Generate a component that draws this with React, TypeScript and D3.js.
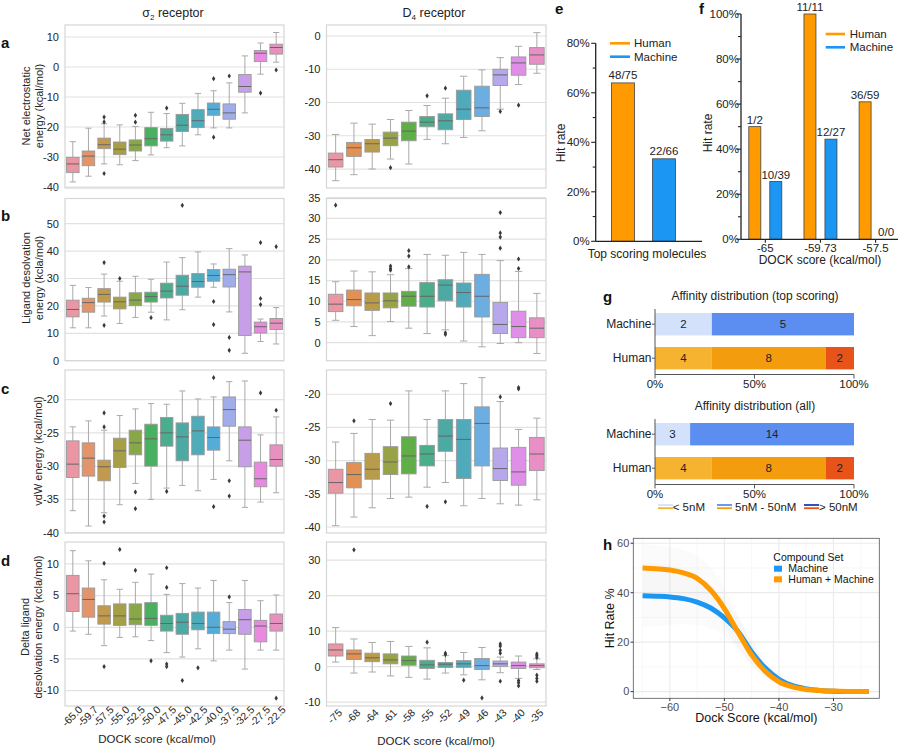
import React from "react";
import * as d3 from "d3";

const FONT = "'Liberation Sans', Arial, Helvetica, sans-serif";

// ---------------- data: box plots (each box: [lowWhisker, q1, median, q3, highWhisker]) ----------------
const sigmaScores = ["-65.0", "-59.7", "-57.5", "-55.0", "-52.5", "-50.0", "-47.5", "-45.0", "-42.5", "-40.0", "-37.5", "-32.5", "-27.5", "-22.5"];
const d4Scores = ["-75", "-68", "-64", "-61", "-58", "-55", "-52", "-49", "-46", "-43", "-40", "-35"];

const elecSigma = [
  [-38.3, -35.2, -32.3, -30.1, -24.9], [-36.4, -32.9, -29.7, -28, -20.4], [-32.3, -27.2, -25.9, -23.7, -18.9],
  [-32.6, -29.2, -27.4, -25, -19.3], [-31.2, -28, -26, -24.3, -19.8], [-29.3, -26.3, -23.9, -20.2, -15.1],
  [-26.9, -24.7, -22.6, -20.5, -15.5], [-26.3, -21.5, -19.4, -15.8, -12.1], [-22.6, -20.2, -17.9, -14.2, -8.8],
  [-20.3, -16.1, -14.1, -12, -7.9], [-20.3, -17.4, -15.3, -12.3, -5.3], [-15.3, -8.4, -6.5, -2.5, 3.7],
  [-2.4, 1.8, 4.6, 5.5, 8], [1.6, 4.3, 6.5, 7.6, 11.5],
];
const elecSigmaFliers = [[], [], [-16.7, -18.3, -35.5], [], [-16.1, -18.4], [], [-13.7], [], [], [-3.9, -23.4], [-3], [], [-8.7], [-1]];

const elecD4 = [
  [-43.5, -39.4, -37.2, -35.2, -29.6], [-41.7, -36.2, -33.6, -32, -26.2], [-40, -34.9, -32.4, -31.1, -26.5],
  [-37, -33, -30.7, -28.9, -25.1], [-38.5, -31.5, -28.6, -25.9, -22.4], [-31.1, -27.3, -25.9, -24.2, -20.9],
  [-32.4, -28.2, -25.5, -23.4, -18.7], [-30.5, -25.1, -22, -16.3, -12.1], [-28.5, -24.2, -21.6, -15.1, -10.2],
  [-22, -14.9, -11.7, -10, -6.5], [-14.6, -11.8, -8.1, -6.3, -3.1], [-11.2, -8.5, -5.7, -3.5, 1],
];
const elecD4Fliers = [[], [], [], [-39.6], [], [-18], [-15.7], [], [], [-22.7], [-20.8], []];

const desolvSigma = [
  [12, 16, 18.7, 22.1, 27.5], [12, 17.7, 21.2, 22.8, 26.7], [16.3, 21.4, 24.2, 26.3, 31.6],
  [13.6, 18.9, 21.5, 23.2, 29], [15.8, 20.1, 22.1, 24.8, 30.8], [17.7, 21.4, 23.4, 25, 29.7],
  [14.9, 22.9, 25.4, 28.3, 36], [18.6, 23.9, 27.2, 31.2, 37.6], [23.2, 26.8, 28.9, 31.8, 39.7],
  [26.8, 29, 31.1, 33.3, 35.3], [17.8, 26.9, 31.4, 33.4, 40.9], [2.7, 9.2, 32.4, 34.5, 38.6],
  [7, 10.1, 12.4, 14.1, 15.2], [6.1, 11.4, 13.7, 15.4, 19.4],
];
const desolvSigmaFliers = [[], [], [35.8, 12.9], [30], [], [15.7], [], [56.7], [], [21.6, 13.2], [8.5, 3.8], [], [43.1, 22.7, 20.5], [41.6]];

const desolvD4 = [
  [5.4, 7.5, 9.3, 11.7, 14.7], [3.9, 8.9, 10.4, 12.7, 17.3], [1.7, 7.8, 9.6, 12, 17.1],
  [5.1, 8.4, 10.1, 12, 16.4], [3.5, 8.8, 11.2, 12.4, 17.9], [2.2, 8.6, 11.2, 14.5, 21.3],
  [3.1, 10.1, 13.9, 15.2, 21.1], [0.4, 8.6, 12.1, 14.4, 21.8], [-1, 6.2, 11.2, 16.5, 21.3],
  [-0.2, 2.2, 4.4, 9.7, 19.8], [0, 1.2, 3.9, 7.6, 17.2], [-2.6, 1.2, 3.5, 6, 11.9],
];
const desolvD4Fliers = [[33.2], [], [], [18.5, 17.9, 17.5], [22.2, 20.9, 18.3], [], [2.4, 2], [], [], [31.4, 26.5, 25.5, 22.8], [20.2, 17.9], []];

const vdwSigma = [
  [-36.7, -31.7, -29.7, -26.2, -24.1], [-39, -31.5, -28.8, -26.5, -23.2], [-37, -32.2, -30.1, -29.1, -24.6],
  [-35.8, -30.2, -27.7, -25.8, -22.4], [-32.6, -28.3, -26.5, -24.6, -21.4], [-35, -30, -25.9, -23.7, -20.6],
  [-33.3, -27, -25, -22.7, -20.7], [-32.9, -29.2, -25.6, -23.5, -18.7], [-33.7, -28.3, -24.7, -22.5, -19.9],
  [-32, -27.6, -25.7, -24.1, -19.6], [-29.2, -24, -21.5, -19.6, -17.3], [-36.2, -30.1, -26.1, -24.1, -17.2],
  [-35.4, -33.1, -31.9, -29.4, -25.3], [-34, -30, -29, -26.8, -22.6],
];
const vdwSigmaFliers = [[], [], [-22, -24.1, -37.5, -38.4], [], [-33.9, -36.4], [], [-33.8], [], [], [-16.7, -36.1], [-32.2, -34.5], [], [-19], [-21.6]];

const vdwD4 = [
  [-39.8, -34.9, -33.3, -31.3, -27.2], [-38.5, -34.1, -32.1, -30.3, -25.9], [-37.1, -32.8, -31.3, -28.9, -23.8],
  [-35.7, -32.1, -30.2, -27.9, -23.9], [-35.5, -32, -29.3, -26.4, -19.5], [-34, -30.8, -29, -27.7, -23.8],
  [-33.3, -28.6, -26.3, -23.8, -19.5], [-36.8, -32.7, -26.8, -23.8, -18.4], [-35.7, -30.8, -24.4, -21.9, -17.5],
  [-36.5, -33, -31.2, -28.1, -21.1], [-36.7, -33.7, -31.7, -28, -25.3], [-35.9, -31.5, -29, -26.5, -23.6],
];
const vdwD4Fliers = [[], [-24], [], [-21.4], [], [-36.9], [-36.2], [], [], [-20.4], [-19, -19.2], []];

const deltaSigma = [
  [-0.6, 2.5, 5.3, 8.2, 12.1], [-1.1, 1.6, 4.4, 6.2, 10.5], [-2.9, 0.5, 1.8, 3.4, 7.5],
  [-1.6, 0.3, 1.8, 3.7, 6], [-1.5, 0.4, 1.3, 3.7, 7.1], [-2.1, 0.3, 1.4, 3.9, 8.4],
  [-4, -0.6, 0.6, 1.9, 5.2], [-4.7, -1.1, 0.8, 2.2, 6.9], [-3.4, -0.4, 0.6, 2.4, 6.2],
  [-5.3, -1, 0, 2.4, 7.4], [-3.6, -1, -0.3, 0.9, 3.9], [-6.6, -1.1, 1.2, 2.8, 7.4],
  [-3.6, -2.3, 0.2, 1.1, 4.2], [-3.6, -0.6, 0.6, 2.1, 5.1],
];
const deltaSigmaFliers = [[], [], [10.1, -6.2], [12.3], [9], [-5.3], [9.4, 6.3, -5.8, -6.2], [-8.4], [-6.4], [], [4.8], [], [], [-11.2]];

const deltaD4 = [
  [1.3, 3, 4.7, 6.4, 11], [-1.8, 2, 3.6, 4.7, 7.8], [-1.5, 1.4, 2.5, 3.8, 6.8],
  [-2.6, 0.8, 1.9, 3.6, 7.1], [-3, 0.4, 1.7, 3, 5.7], [-3.5, -0.5, 0.5, 1.8, 5.3],
  [-1.8, -0.2, 0.7, 1.2, 3.1], [-2.3, -0.2, 0.8, 1.7, 4], [-3.7, -0.8, 0.3, 2.3, 5.4],
  [-1.7, 0.1, 0.8, 1.6, 2.7], [-3.3, -0.5, 0.3, 1.3, 3], [-0.8, -0.3, 0.3, 0.8, 2.2],
];
const deltaD4Fliers = [[], [32.9], [], [], [], [6.9], [3.8, 3.4], [-3.8], [-8.8], [6.4, 5.8, 4.6, 3.8, -4.1], [-3.9, -4.5, -5.4], [3.6, 3.1, 2.6, -2.4, -3.3, -4.1]];

// ---------------- data: e / f ----------------
const eGroups = ["Human", "Machine"];
const eHits = [48, 22];
const eTotals = [75, 66];

const fScores = ["-65", "-59.73", "-57.5"];
const fHumanHits = [1, 11, 36];
const fHumanTotals = [2, 11, 59];
const fMachineHits = [10, 12, 0];
const fMachineTotals = [39, 27, 0];

// ---------------- data: g (counts: <5nM, 5-50nM, >50nM) ----------------
const gRows = ["Machine", "Human"];
const gTopMachine = [2, 5, 0];
const gTopHuman = [4, 8, 2];
const gAllMachine = [3, 14, 0];
const gAllHuman = [4, 8, 2];
const gLegend = ["< 5nM", "5nM - 50nM", "> 50nM"];

// ---------------- data: h ----------------
const hScores = [-65, -62.5, -60, -57.5, -55, -52.5, -50, -47.5, -45, -42.5, -40, -37.5, -35, -32.5, -30, -27.5, -23.5];
const hMachine = [38.8, 38.6, 38.3, 37.6, 36.2, 33.8, 29.8, 24.3, 16, 9.5, 5, 2.4, 1.1, 0.5, 0.2, 0.08, 0.02];
const hHumanMachine = [50, 49.7, 49.2, 48, 45.8, 41, 33.6, 24, 14.8, 8.2, 4, 1.9, 0.9, 0.45, 0.22, 0.1, 0.03];
const hHMUpper = [59.5, 59.2, 58.5, 57.2, 55, 50, 42, 31, 20, 11.5, 6, 3.5, 2, 1.2, 0.8, 0.5, 0.3];
const hHMLower = [40, 40.2, 40, 39, 37, 33, 26, 18, 10.5, 5, 2.2, 1, 0.4, 0.15, 0.05, 0, 0];
const hMUpper = [52, 51.8, 51, 49.5, 47, 43, 37, 30, 21, 13, 8, 4.5, 2.5, 1.3, 0.7, 0.4, 0.2];
const hMLower = [26, 26.5, 27, 27.2, 27, 25.5, 23, 17, 11, 6, 2.5, 1, 0.3, 0.1, 0, 0, 0];

// ---------------- HUSL palette (seaborn style) ----------------
const MM = [
  [3.240969941904521, -1.537383177570093, -0.498610760293],
  [-0.96924363628087, 1.87596750150772, 0.041555057407175],
  [0.055630079696993, -0.20397695888897, 1.056971514242878],
];
const refU = 0.19783000664283, refV = 0.46831999493879, kappa = 903.2962962, eps = 0.0088564516;
function maxChroma(L: number, H: number) {
  const sub1 = Math.pow(L + 16, 3) / 1560896;
  const sub2 = sub1 > eps ? sub1 : L / kappa;
  const hr = (H / 360) * Math.PI * 2;
  let min = Infinity;
  for (const [m1, m2, m3] of MM) {
    for (const t of [0, 1]) {
      const top1 = (284517 * m1 - 94839 * m3) * sub2;
      const top2 = (838422 * m3 + 769860 * m2 + 731718 * m1) * L * sub2 - 769860 * t * L;
      const bottom = (632260 * m3 - 126452 * m2) * sub2 + 126452 * t;
      const slope = top1 / bottom, inter = top2 / bottom;
      const len = inter / (Math.sin(hr) - slope * Math.cos(hr));
      if (len >= 0) min = Math.min(min, len);
    }
  }
  return min;
}
function husl(H: number, S: number, L: number) {
  const C = (maxChroma(L, H) / 100) * S;
  const hr = (H / 180) * Math.PI;
  const U = Math.cos(hr) * C, V = Math.sin(hr) * C;
  const vu = U / (13 * L) + refU, vv = V / (13 * L) + refV;
  const Y = L <= 8 ? L / kappa : Math.pow((L + 16) / 116, 3);
  const X = 0 - (9 * Y * vu) / ((vu - 4) * vv - vu * vv);
  const Z = (9 * Y - 15 * vv * Y - vv * X) / (3 * vv);
  const rgb = MM.map(([a, b, c]) => {
    const lin = a * X + b * Y + c * Z;
    const v = lin <= 0.0031308 ? 12.92 * lin : 1.055 * Math.pow(lin, 1 / 2.4) - 0.055;
    return Math.max(0, Math.min(1, v)) * 255;
  });
  return d3.rgb(rgb[0], rgb[1], rgb[2]);
}
function palette(n: number) {
  return d3.range(n).map((i) => {
    const h = ((i / n + 0.01) % 1) * 359;
    const c = d3.hsl(husl(h, 0.9 * 99, 0.7 * 99));
    c.s *= 0.75;
    return c.formatHex();
  });
}
const colors14 = palette(14);
const colors12 = palette(12);

// ---------------- components ----------------
function BoxPanel(props: any) {
  const { x0, x1, y0, y1, domain, ticks, stats, fliers, colors, xLabels } = props;
  const x = d3.scaleBand<number>().domain(d3.range(stats.length)).range([x0, x1]);
  const y = d3.scaleLinear().domain(domain).range([y1, y0]);
  const bw = x.bandwidth() * 0.8;
  const cap = bw / 2;
  const diamond = "M0,-2.6L1.7,0L0,2.6L-1.7,0Z";
  return (
    <g>
      {ticks.map((t: number) => (
        <line key={"g" + t} x1={x0} x2={x1} y1={y(t)} y2={y(t)} stroke="#e2e2e2" strokeWidth={1.2} />
      ))}
      <rect x={x0} y={y0} width={x1 - x0} height={y1 - y0} fill="none" stroke="#d6d6d6" strokeWidth={1.2} />
      {ticks.map((t: number) => (
        <text key={"t" + t} x={x0 - 6} y={y(t)} dy="0.35em" textAnchor="end" fontSize={11} fill="#262626">{t}</text>
      ))}
      {stats.map((s: number[], i: number) => {
        const cx = (x(i) as number) + x.bandwidth() / 2;
        const [lo, q1, med, q3, hi] = s;
        return (
          <g key={i}>
            <line x1={cx} x2={cx} y1={y(q3)} y2={y(hi)} stroke="#aaa" strokeWidth={1} />
            <line x1={cx} x2={cx} y1={y(q1)} y2={y(lo)} stroke="#aaa" strokeWidth={1} />
            <line x1={cx - cap / 2} x2={cx + cap / 2} y1={y(hi)} y2={y(hi)} stroke="#aaa" strokeWidth={1} />
            <line x1={cx - cap / 2} x2={cx + cap / 2} y1={y(lo)} y2={y(lo)} stroke="#aaa" strokeWidth={1} />
            <rect x={cx - bw / 2} y={y(q3)} width={bw} height={Math.max(0.5, y(q1) - y(q3))} fill={colors[i]} stroke="#999" strokeWidth={0.9} />
            <line x1={cx - bw / 2} x2={cx + bw / 2} y1={y(med)} y2={y(med)} stroke="#666" strokeWidth={1} />
            {fliers[i].map((f: number, k: number) => (
              <path key={k} d={diamond} transform={`translate(${cx},${y(f)})`} fill="#3a3a3a" />
            ))}
          </g>
        );
      })}
      {xLabels &&
        xLabels.map((l: string, i: number) => {
          const cx = (x(i) as number) + x.bandwidth() / 2;
          return (
            <text key={"xl" + i} transform={`translate(${cx - 1},${y1 + 10}) rotate(-45)`} textAnchor="middle" dominantBaseline="central" fontSize={10.5} fill="#262626">{l}</text>
          );
        })}
    </g>
  );
}

function VLabel({ x, y, lines, size = 11 }: any) {
  return (
    <g transform={`translate(${x},${y}) rotate(-90)`}>
      {lines.map((l: string, i: number) => (
        <text key={i} x={0} y={i * 12.5} textAnchor="middle" fontSize={size} fill="#262626">{l}</text>
      ))}
    </g>
  );
}

function PanelE() {
  const y = d3.scaleLinear().domain([0, 80]).range([241.3, 43.3]);
  const x = d3.scalePoint<string>().domain(eGroups).range([623, 664]);
  const cols = ["#FF9A00", "#1B96F2"];
  const ax = 595.7;
  return (
    <g>
      {d3.range(0, 81, 10).map((t) => (
        <line key={t} x1={ax - (t % 20 === 0 ? 4.5 : 3)} x2={ax} y1={y(t)} y2={y(t)} stroke="#222" strokeWidth={1.1} />
      ))}
      {d3.range(0, 81, 20).map((t) => (
        <text key={"l" + t} x={ax - 6} y={y(t)} dy="0.35em" textAnchor="end" fontSize={11.5} fill="#222">{t}%</text>
      ))}
      <line x1={ax} x2={ax} y1={y(80)} y2={y(0)} stroke="#222" strokeWidth={1.3} />
      {eGroups.map((g, i) => {
        const v = (eHits[i] / eTotals[i]) * 100;
        return (
          <g key={g}>
            <rect x={(x(g) as number) - 11.5} y={y(v)} width={23} height={y(0) - y(v)} fill={cols[i]} stroke="#444" strokeWidth={0.8} />
            <text x={x(g)} y={y(v) - 4} textAnchor="middle" fontSize={11.5} fill="#222">{eHits[i]}/{eTotals[i]}</text>
          </g>
        );
      })}
      <line x1={ax} x2={702} y1={y(0)} y2={y(0)} stroke="#222" strokeWidth={1.3} />
      {eGroups.map((g, i) => (
        <g key={"lg" + g}>
          <line x1={610} x2={630} y1={43.3 + i * 13.4} y2={43.3 + i * 13.4} stroke={cols[i]} strokeWidth={2.6} />
          <text x={634} y={43.3 + i * 13.4} dy="0.35em" fontSize={11.5} fill="#222">{g}</text>
        </g>
      ))}
      <text transform="translate(565,143) rotate(-90)" textAnchor="middle" fontSize={12} fill="#222">Hit rate</text>
      <text x={647} y={258} textAnchor="middle" fontSize={12} fill="#222">Top scoring molecules</text>
    </g>
  );
}

function PanelF() {
  const y = d3.scaleLinear().domain([0, 100]).range([239.3, 14]);
  const x = d3.scalePoint<string>().domain(fScores).range([765.3, 875.6]);
  const ax = 741;
  const human = "#FF9A00", mach = "#1B96F2";
  return (
    <g>
      {d3.range(0, 101, 10).map((t) => (
        <line key={t} x1={ax - (t % 20 === 0 ? 4.5 : 3)} x2={ax} y1={y(t)} y2={y(t)} stroke="#222" strokeWidth={1.1} />
      ))}
      {d3.range(0, 101, 20).map((t) => (
        <text key={"l" + t} x={ax - 2} y={y(t)} dy="0.35em" textAnchor="end" fontSize={11.5} fill="#222">{t}%</text>
      ))}
      <line x1={ax} x2={ax} y1={y(100)} y2={y(0)} stroke="#222" strokeWidth={1.3} />
      {fScores.map((s, i) => {
        const hv = fHumanTotals[i] ? (fHumanHits[i] / fHumanTotals[i]) * 100 : 0;
        const mv = fMachineTotals[i] ? (fMachineHits[i] / fMachineTotals[i]) * 100 : 0;
        const cx = x(s) as number;
        return (
          <g key={s}>
            <rect x={cx - 16.5} y={y(hv)} width={12} height={y(0) - y(hv)} fill={human} stroke="#444" strokeWidth={0.8} />
            <text x={cx - 10.5} y={y(hv) - 3} textAnchor="middle" fontSize={11.5} fill="#222">{fHumanHits[i]}/{fHumanTotals[i]}</text>
            {mv > 0 && <rect x={cx + 4.5} y={y(mv)} width={12} height={y(0) - y(mv)} fill={mach} stroke="#444" strokeWidth={0.8} />}
            <text x={cx + 10.5} y={y(mv) - 3} textAnchor="middle" fontSize={11.5} fill="#222">{fMachineHits[i]}/{fMachineTotals[i]}</text>
            <line x1={cx} x2={cx} y1={y(0)} y2={y(0) + 3.5} stroke="#222" strokeWidth={1.1} />
            <text x={cx} y={y(0) + 13} textAnchor="middle" fontSize={11.5} fill="#222">{s}</text>
          </g>
        );
      })}
      <line x1={ax} x2={898} y1={y(0)} y2={y(0)} stroke="#222" strokeWidth={1.3} />
      {["Human", "Machine"].map((g, i) => (
        <g key={"lg" + g}>
          <line x1={825.7} x2={845} y1={34 + i * 13.3} y2={34 + i * 13.3} stroke={i ? mach : human} strokeWidth={2.6} />
          <text x={849.7} y={34 + i * 13.3} dy="0.35em" fontSize={11.5} fill="#222">{g}</text>
        </g>
      ))}
      <text transform="translate(712,133) rotate(-90)" textAnchor="middle" fontSize={12} fill="#222">Hit rate</text>
      <text x={820} y={264} textAnchor="middle" fontSize={12} fill="#222">DOCK score (kcal/mol)</text>
    </g>
  );
}

const machineCols = ["#d3e1fa", "#5b8ef0", "#2638b0"];
const humanCols = ["#f6b330", "#f39c0e", "#e8531a"];

function StackChart({ top, title, machine, human }: any) {
  const x = d3.scaleLinear().domain([0, 1]).range([655, 854]);
  const barH = 22.4;
  const ys = [top + 13, top + 47];
  const axisY = top + 74.5;
  const rows = [machine, human];
  const cols = [machineCols, humanCols];
  return (
    <g>
      <text x={755} y={top} textAnchor="middle" fontSize={12} fill="#222">{title}</text>
      {rows.map((r: number[], ri: number) => {
        const total = d3.sum(r);
        let acc = 0;
        return (
          <g key={ri}>
            {r.map((v, k) => {
              const s = acc;
              acc += v;
              if (v === 0) return null;
              return (
                <g key={k}>
                  <rect x={x(s / total)} y={ys[ri]} width={x(acc / total) - x(s / total)} height={barH} fill={cols[ri][k]} />
                  <text x={(x(s / total) + x(acc / total)) / 2} y={ys[ri] + barH / 2} dy="0.35em" textAnchor="middle" fontSize={11.5} fill="#222">{v}</text>
                </g>
              );
            })}
            <line x1={652} x2={655} y1={ys[ri] + barH / 2} y2={ys[ri] + barH / 2} stroke="#555" />
            <text x={651.5} y={ys[ri] + barH / 2} dy="0.35em" textAnchor="end" fontSize={12} fill="#222">{gRows[ri]}</text>
          </g>
        );
      })}
      <line x1={655} x2={655} y1={ys[0] - 4} y2={axisY} stroke="#555" strokeWidth={1} />
      <line x1={655} x2={854} y1={axisY} y2={axisY} stroke="#555" strokeWidth={1} />
      {[0, 0.5, 1].map((t) => (
        <g key={t}>
          <line x1={x(t)} x2={x(t)} y1={axisY} y2={axisY + 4} stroke="#555" />
          <text x={x(t)} y={axisY + 13} textAnchor="middle" fontSize={11.5} fill="#222">{t * 100}%</text>
        </g>
      ))}
    </g>
  );
}

function PanelG() {
  const lx = [658, 717, 804];
  const tx = [672.7, 735, 819];
  return (
    <g>
      <StackChart top={300} title="Affinity distribution (top scoring)" machine={gTopMachine} human={gTopHuman} />
      <StackChart top={410} title="Affinity distribution (all)" machine={gAllMachine} human={gAllHuman} />
      {gLegend.map((l, i) => (
        <g key={l}>
          <line x1={lx[i]} x2={lx[i] + 15} y1={505} y2={505} stroke={machineCols[i]} strokeWidth={1.8} />
          <line x1={lx[i]} x2={lx[i] + 15} y1={508.2} y2={508.2} stroke={humanCols[i]} strokeWidth={1.8} />
          <text x={tx[i]} y={506.7} dy="0.35em" fontSize={11.5} fill="#222">{l}</text>
        </g>
      ))}
    </g>
  );
}

function PanelH() {
  const L = 633.3, R = 879.3, T = 538.3, B = 698.3;
  const x = d3.scaleLinear().domain([-66.7, -21.6]).range([L, R]);
  const y = d3.scaleLinear().domain([-2.7, 62]).range([B, T]);
  const line = (vals: number[]) =>
    d3.line<number>().x((_, i) => x(hScores[i])).y((v) => y(v)).curve(d3.curveMonotoneX)(vals) as string;
  const area = (lo: number[], hi: number[]) =>
    d3.area<number>().x((_, i) => x(hScores[i])).y0((_, i) => y(lo[i])).y1((_, i) => y(hi[i])).curve(d3.curveMonotoneX)(hScores) as string;
  const blue = "#1B96F2", orange = "#FF9A00";
  return (
    <g>
      <rect x={L} y={T} width={R - L} height={B - T} fill="#fff" />
      {[-65, -55, -45, -35, -25].map((t) => (
        <line key={"mx" + t} x1={x(t)} x2={x(t)} y1={T} y2={B} stroke="#f3f3f3" strokeWidth={0.7} />
      ))}
      {[10, 30, 50].map((t) => (
        <line key={"my" + t} x1={L} x2={R} y1={y(t)} y2={y(t)} stroke="#f3f3f3" strokeWidth={0.7} />
      ))}
      {[-60, -50, -40, -30].map((t) => (
        <line key={"Mx" + t} x1={x(t)} x2={x(t)} y1={T} y2={B} stroke="#ebebeb" strokeWidth={1.2} />
      ))}
      {[0, 20, 40, 60].map((t) => (
        <line key={"My" + t} x1={L} x2={R} y1={y(t)} y2={y(t)} stroke="#ebebeb" strokeWidth={1.2} />
      ))}
      <path d={area(hMLower, hMUpper)} fill="#aaa" fillOpacity={0.045} />
      <path d={area(hHMLower, hHMUpper)} fill="#aaa" fillOpacity={0.045} />
      <path d={line(hMachine)} fill="none" stroke={blue} strokeWidth={5} />
      <path d={line(hHumanMachine)} fill="none" stroke={orange} strokeWidth={5} />
      <rect x={L} y={T} width={R - L} height={B - T} fill="none" stroke="#555" strokeWidth={0.8} />
      {[0, 20, 40, 60].map((t) => (
        <g key={"yt" + t}>
          <line x1={L - 2.7} x2={L} y1={y(t)} y2={y(t)} stroke="#333" />
          <text x={L - 4} y={y(t)} dy="0.35em" textAnchor="end" fontSize={11} fill="#4d4d4d">{t}</text>
        </g>
      ))}
      {[-60, -50, -40, -30].map((t) => (
        <g key={"xt" + t}>
          <line x1={x(t)} x2={x(t)} y1={B} y2={B + 2.7} stroke="#333" />
          <text x={x(t)} y={B + 12.5} textAnchor="middle" fontSize={11} fill="#4d4d4d">{"\u2212" + Math.abs(t)}</text>
        </g>
      ))}
      <text transform={`translate(614,${(T + B) / 2}) rotate(-90)`} textAnchor="middle" fontSize={12.5} fill="#111">Hit Rate %</text>
      <text x={(L + R) / 2} y={722} textAnchor="middle" fontSize={12.5} fill="#111">Dock Score (kcal/mol)</text>
      <text x={773.3} y={560.5} fontSize={10.5} fill="#111">Compound Set</text>
      <rect x={774} y={565.7} width={8} height={6} fill={blue} />
      <text x={788.3} y={572.3} fontSize={10.5} fill="#111">Machine</text>
      <rect x={774} y={576.3} width={8} height={6} fill={orange} />
      <text x={788.3} y={583} fontSize={10.5} fill="#111">Human + Machine</text>
    </g>
  );
}

export default function App() {
  const sx0 = 65, sx1 = 284, dx0 = 326.5, dx1 = 546;
  const rows = [
    { y0: 25, y1: 188 },
    { y0: 198.5, y1: 360.7 },
    { y0: 370, y1: 533 },
    { y0: 542, y1: 706 },
  ];
  return (
    <svg width={900} height={747} style={{ position: "absolute", left: 0, top: 0, background: "#fff" }} fontFamily={FONT}>
      <rect width={900} height={747} fill="#fff" />
      {/* titles */}
      <text x={173} y={17} textAnchor="middle" fontSize={12.5} fill="#222">
        σ<tspan fontSize={8} dy={3}>2</tspan><tspan dy={-3}> receptor</tspan>
      </text>
      <text x={434} y={17} textAnchor="middle" fontSize={12.5} fill="#222">
        D<tspan fontSize={8} dy={3}>4</tspan><tspan dy={-3}> receptor</tspan>
      </text>
      {/* panel letters */}
      {[["a", 48], ["b", 220.5], ["c", 393.5], ["d", 566]].map(([l, yy]) => (
        <text key={l as string} x={1} y={yy as number} fontSize={15} fontWeight="bold" fill="#111">{l}</text>
      ))}
      <text x={555} y={14} fontSize={15} fontWeight="bold" fill="#111">e</text>
      <text x={699} y={14} fontSize={15} fontWeight="bold" fill="#111">f</text>
      <text x={603} y={302} fontSize={15} fontWeight="bold" fill="#111">g</text>
      <text x={603} y={550} fontSize={15} fontWeight="bold" fill="#111">h</text>

      {/* y labels */}
      <VLabel x={30} y={106} lines={["Net electrostatic", "energy (kcal/mol)"]} />
      <VLabel x={30} y={278} lines={["Ligand desolvation", "energy (kcla/mol)"]} />
      <VLabel x={42} y={451} lines={["vdW energy (kcal/mol)"]} />
      <VLabel x={29} y={627} lines={["Delta ligand", "desolvation energy (kcla/mol)"]} />

      {/* box panels */}
      <BoxPanel x0={sx0} x1={sx1} {...rows[0]} domain={[-40.33, 14]} ticks={[-40, -30, -20, -10, 0, 10]} stats={elecSigma} fliers={elecSigmaFliers} colors={colors14} />
      <BoxPanel x0={dx0} x1={dx1} {...rows[0]} domain={[-45.7, 3.3]} ticks={[-40, -30, -20, -10, 0]} stats={elecD4} fliers={elecD4Fliers} colors={colors12} />
      <BoxPanel x0={sx0} x1={sx1} {...rows[1]} domain={[0, 59.2]} ticks={[0, 10, 20, 30, 40, 50]} stats={desolvSigma} fliers={desolvSigmaFliers} colors={colors14} />
      <BoxPanel x0={dx0} x1={dx1} {...rows[1]} domain={[-4.35, 34.8]} ticks={[0, 5, 10, 15, 20, 25, 30, 35]} stats={desolvD4} fliers={desolvD4Fliers} colors={colors12} />
      <BoxPanel x0={sx0} x1={sx1} {...rows[2]} domain={[-40.05, -15.55]} ticks={[-40, -35, -30, -25, -20]} stats={vdwSigma} fliers={vdwSigmaFliers} colors={colors14} />
      <BoxPanel x0={dx0} x1={dx1} {...rows[2]} domain={[-40.9, -16.35]} ticks={[-40, -35, -30, -25, -20]} stats={vdwD4} fliers={vdwD4Fliers} colors={colors12} />
      <BoxPanel x0={sx0} x1={sx1} {...rows[3]} domain={[-12.43, 13.47]} ticks={[-10, -5, 0, 5, 10]} stats={deltaSigma} fliers={deltaSigmaFliers} colors={colors14} xLabels={sigmaScores} />
      <BoxPanel x0={dx0} x1={dx1} {...rows[3]} domain={[-11.07, 35.1]} ticks={[-10, 0, 10, 20, 30]} stats={deltaD4} fliers={deltaD4Fliers} colors={colors12} xLabels={d4Scores} />

      <text x={157} y={743} textAnchor="middle" fontSize={11.5} fill="#262626">DOCK score (kcal/mol)</text>
      <text x={436} y={745} textAnchor="middle" fontSize={11.5} fill="#262626">DOCK score (kcal/mol)</text>

      <PanelE />
      <PanelF />
      <PanelG />
      <PanelH />
    </svg>
  );
}
